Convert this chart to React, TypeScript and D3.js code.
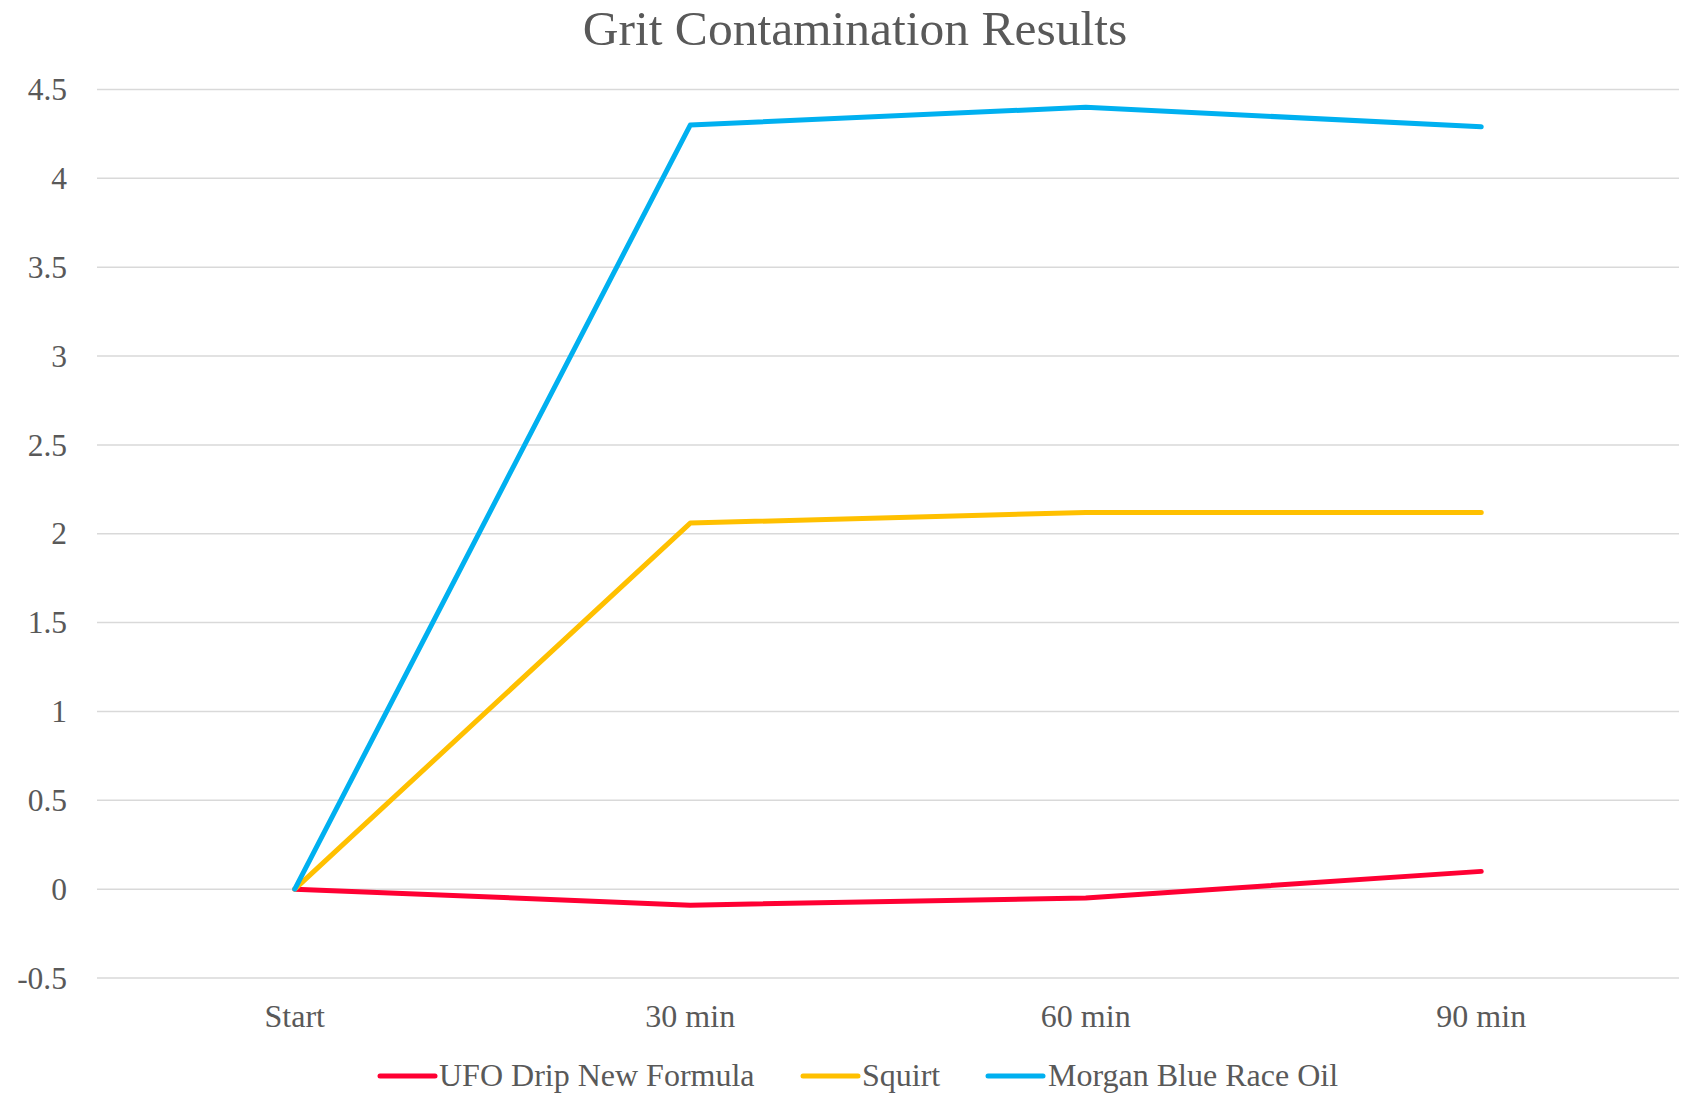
import * as d3 from "d3";

const categories = ["Start", "30 min", "60 min", "90 min"];
const ufoDrip = [0, -0.09, -0.05, 0.1];
const squirt = [0, 2.06, 2.12, 2.12];
const morganBlue = [0, 4.3, 4.4, 4.29];
const yTicks = [-0.5, 0, 0.5, 1, 1.5, 2, 2.5, 3, 3.5, 4, 4.5];

const seriesNames = ["UFO Drip New Formula", "Squirt", "Morgan Blue Race Oil"];
const seriesColors = ["#FF0033", "#FFC000", "#00B0F0"];

const width = 1690;
const height = 1093;
const font = "'Liberation Serif', 'Times New Roman', serif";
const textColor = "#595959";

export default function App() {
  const plotLeft = 97;
  const plotRight = 1679;
  const x = d3
    .scaleBand()
    .domain(categories)
    .range([plotLeft, plotRight]);
  const y = d3.scaleLinear().domain([-0.5, 4.5]).range([978, 89.5]);

  const series = [ufoDrip, squirt, morganBlue];
  const line = d3
    .line<number>()
    .x((_, i) => (x(categories[i]) ?? 0) + x.bandwidth() / 2)
    .y((d) => y(d));

  // legend layout: marker then text
  const legendItems = [
    { mx: 380, tx: 439 },
    { mx: 803, tx: 862 },
    { mx: 988, tx: 1048 },
  ];

  return (
    <svg
      width={width}
      height={height}
      style={{ position: "absolute", left: 0, top: 0, background: "#fff" }}
    >
      <text
        x={855}
        y={45}
        textAnchor="middle"
        fontFamily={font}
        fontSize={49.5}
        fill={textColor}
      >
        Grit Contamination Results
      </text>

      {yTicks.map((t) => (
        <g key={t}>
          <line
            x1={plotLeft}
            x2={plotRight}
            y1={y(t)}
            y2={y(t)}
            stroke="#D9D9D9"
            strokeWidth={1.5}
          />
          <text
            x={67}
            y={y(t)}
            dy="0.34em"
            textAnchor="end"
            fontFamily={font}
            fontSize={31.5}
            fill={textColor}
          >
            {t}
          </text>
        </g>
      ))}

      {categories.map((c) => (
        <text
          key={c}
          x={(x(c) ?? 0) + x.bandwidth() / 2}
          y={1027}
          textAnchor="middle"
          fontFamily={font}
          fontSize={32}
          fill={textColor}
        >
          {c}
        </text>
      ))}

      {series.map((s, i) => (
        <path
          key={i}
          d={line(s) ?? ""}
          fill="none"
          stroke={seriesColors[i]}
          strokeWidth={5}
          strokeLinecap="round"
          strokeLinejoin="round"
        />
      ))}

      {seriesNames.map((n, i) => (
        <g key={n}>
          <line
            x1={legendItems[i].mx}
            x2={legendItems[i].mx + 55}
            y1={1076}
            y2={1076}
            stroke={seriesColors[i]}
            strokeWidth={5}
            strokeLinecap="round"
          />
          <text
            x={legendItems[i].tx}
            y={1086}
            fontFamily={font}
            fontSize={32}
            fill={textColor}
          >
            {n}
          </text>
        </g>
      ))}
    </svg>
  );
}
